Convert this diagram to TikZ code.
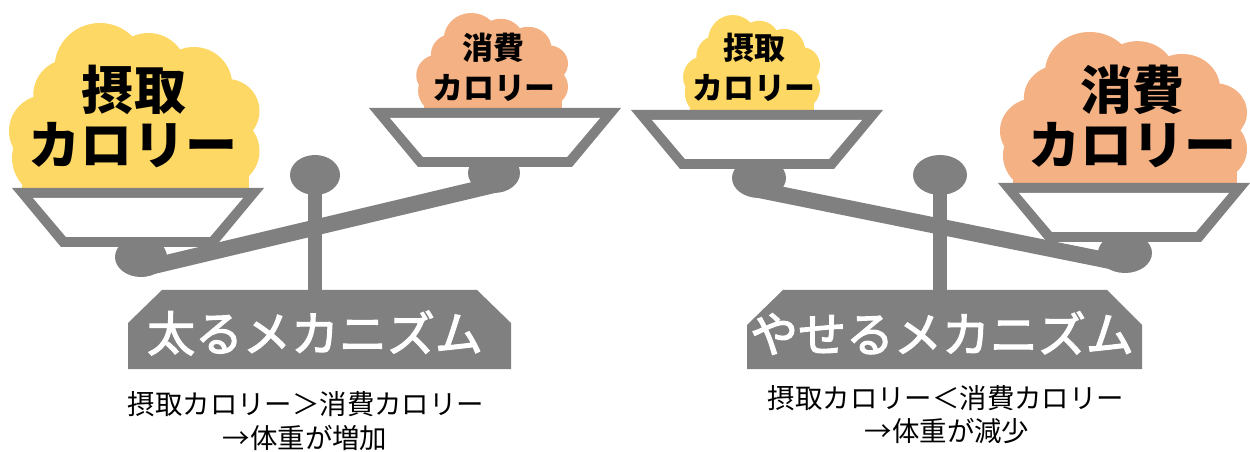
\documentclass[tikz,border=0pt]{standalone}
\usepackage{fontspec}
\newfontfamily\jp{Noto Sans CJK JP}
\newfontfamily\jpmed[FakeBold=2.5]{Noto Sans CJK JP}
\definecolor{sgray}{RGB}{128,128,128}
\definecolor{kiiro}{RGB}{254,216,100}
\definecolor{daidai}{RGB}{244,177,131}
\tikzset{
  bigtxt/.style={font=\jp\bfseries\fontsize{29.6pt}{32pt}\selectfont, inner sep=0pt, anchor=center},
  smalltxt/.style={font=\jp\bfseries\fontsize{17.6pt}{19pt}\selectfont, inner sep=0pt, anchor=center},
  basetxt/.style={font=\jpmed\fontsize{27.3pt}{29pt}\selectfont, text=white, inner sep=0pt, anchor=center},
  notetxt/.style={font=\jp\fontsize{15.6pt}{17pt}\selectfont, inner sep=0pt, anchor=center},
  beam/.style={draw=sgray, line width=0.32cm},
  part/.style={fill=sgray}
}
\newcommand{\kumo}[5]{%
  \begin{scope}[shift={(#1,#2)},xscale=#3,yscale=#4]
    \clip (-10,-10) rectangle (270,168);
    \foreach \cx/\cy/\r in {45/135/40,38/108/36,62/72/36,92/45/45,140/48/38,185/62/38,218/88/32,215/128/35,125/105/80}
      {\fill[#5] (\cx,\cy) circle[radius=\r];}
    \fill[#5] (15,100) rectangle (240,170);
  \end{scope}}
\newcommand{\sara}[2]{%
  \begin{scope}[shift={(#1,#2)}]
    \fill[sgray] (-126,0) -- (126,0) -- (77,59) -- (-77,59) -- cycle;
    \fill[white] (-105,10) -- (105,10) -- (72,49) -- (-72,49) -- cycle;
  \end{scope}}
\begin{document}
\begin{tikzpicture}[x=0.02cm,y=-0.02cm]
\useasboundingbox (0,0) rectangle (1250,452);
% ---------- left scale ----------
\fill[part] (162,290) -- (477,290) -- (511,323) -- (511,369) -- (128,369) -- (128,323) -- cycle;
\fill[part] (308,175) rectangle (322,291);
\fill[part] (315,175) ellipse [x radius=25, y radius=20];
\draw[beam] (141,269) -- (494,185);
\fill[part] (141,257) ellipse [x radius=26, y radius=20];
\fill[part] (494,173) ellipse [x radius=26, y radius=20];
\kumo{7}{23}{1.01}{1.0}{kiiro}
\kumo{415}{13}{0.612}{0.576}{daidai}
\sara{138}{188}
\sara{495}{108}
\node[bigtxt] (a1) at (134,90) {摂取};
\node[bigtxt] (a2) at (133,145) {カロリー};
\node[smalltxt] (b1) at (493,48) {消費};
\node[smalltxt] (b2) at (494,88) {カロリー};
\node[basetxt] (lbase) at (315,333) {太るメカニズム};
\node[notetxt] (ln1) at (306,404) {摂取カロリー＞消費カロリー};
\node[notetxt] (ln2) at (305,438) {→体重が増加};
% ---------- right scale ----------
\fill[part] (783,290) -- (1107,290) -- (1142,325) -- (1142,369) -- (747,369) -- (747,325) -- cycle;
\fill[part] (933,175) rectangle (947,291);
\fill[part] (940,175) ellipse [x radius=27, y radius=20];
\draw[beam] (759,190) -- (1125,264);
\fill[part] (759,178) ellipse [x radius=27, y radius=20];
\fill[part] (1125,253) ellipse [x radius=27, y radius=20];
\kumo{682}{15}{0.552}{0.576}{kiiro}
\kumo{998}{32}{0.996}{0.915}{daidai}
\sara{757}{110}
\sara{1124}{183}
\node[smalltxt] (c1) at (754,48) {摂取};
\node[smalltxt] (c2) at (754,88) {カロリー};
\node[bigtxt] (d1) at (1132,90) {消費};
\node[bigtxt] (d2) at (1132,145) {カロリー};
\node[basetxt] (rbase) at (942,333) {やせるメカニズム};
\node[notetxt] (rn1) at (946,398) {摂取カロリー＜消費カロリー};
\node[notetxt] (rn2) at (947,431) {→体重が減少};
\end{tikzpicture}
\end{document}
